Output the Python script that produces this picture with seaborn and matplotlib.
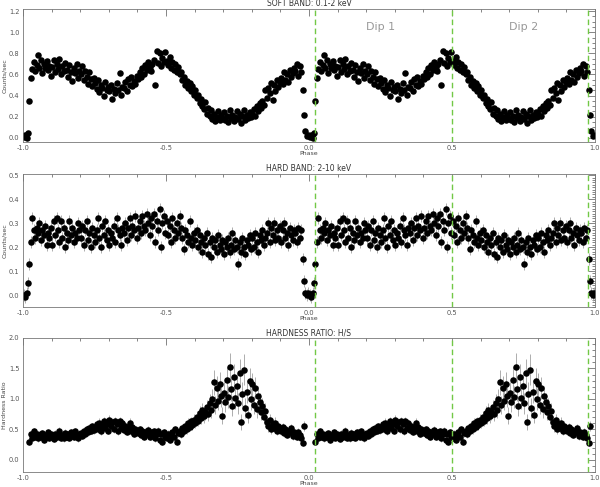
import numpy as np
import pandas as pd
import matplotlib
matplotlib.use("Agg")
import matplotlib.pyplot as plt
import seaborn as sns
from matplotlib.ticker import MultipleLocator

nan = np.nan

# one orbital cycle, phase bins of 0.005 (centres 0.0025 ... 0.9975)
PHASE = np.round(np.arange(200) * 0.005 + 0.0025, 4)

# soft band 0.1-2 keV, counts/sec
SOFT = [
    0.01, 0.03, 0.00, 0.05, 0.35, 0.57, 0.65, 0.72, 0.63, 0.69,
    0.78, 0.66, 0.74, 0.61, 0.70, 0.66, 0.73, 0.64, 0.68, 0.59,
    0.67, 0.74, 0.62, 0.70, 0.65, 0.75, 0.60, 0.68, 0.63, 0.71,
    0.64, 0.58, 0.69, 0.62, 0.54, 0.66, 0.61, 0.70, 0.57, 0.63,
    0.60, 0.68, 0.55, 0.63, 0.58, 0.51, 0.62, 0.56, 0.49, 0.57,
    0.52, 0.46, 0.55, 0.43, 0.50, 0.47, 0.40, 0.53, 0.45, 0.48,
    0.44, 0.50, 0.37, 0.46, 0.42, 0.52, 0.45, 0.61, 0.41, 0.48,
    0.47, 0.53, 0.44, 0.56, 0.50, 0.58, 0.49, 0.54, 0.51, 0.59,
    0.56, 0.62, 0.58, 0.66, 0.60, 0.69, 0.64, 0.72, 0.67, 0.63,
    0.70, 0.74, 0.50, 0.82, 0.71, 0.80, 0.68, 0.76, 0.72, 0.81,
    0.73, 0.69, 0.77, 0.66, 0.72, 0.64, 0.70, 0.62, 0.67, 0.60,
    0.62, 0.55, 0.58, 0.50, 0.54, 0.47, 0.52, 0.44, 0.49, 0.41,
    0.45, 0.38, 0.41, 0.33, 0.37, 0.30, 0.27, 0.34, 0.23, 0.28,
    0.21, 0.26, 0.18, 0.23, 0.16, 0.20, 0.25, 0.17, 0.22, 0.19,
    0.24, 0.17, 0.21, 0.15, 0.26, 0.19, 0.22, 0.16, 0.20, 0.25,
    0.18, 0.23, 0.14, 0.21, 0.26, 0.17, 0.22, 0.19, 0.24, 0.20,
    0.23, 0.27, 0.21, 0.30, 0.25, 0.33, 0.28, 0.35, 0.31, 0.45,
    0.38, 0.47, 0.42, 0.52, 0.36, 0.50, 0.44, 0.55, 0.48, 0.53,
    0.57, 0.51, 0.62, 0.55, 0.60, 0.53, 0.64, 0.58, 0.61, 0.66,
    0.63, 0.70, 0.59, 0.68, 0.62, 0.45, 0.22, 0.06, 0.02, 0.03,
]

# hard band 2-10 keV, counts/sec
HARD = [
    0.00, -0.01, 0.01, 0.05, 0.13, 0.22, 0.32, 0.27, 0.24, 0.28,
    0.26, 0.30, 0.23, 0.27, 0.25, 0.29, 0.21, 0.26, 0.24, 0.28,
    0.21, 0.31, 0.25, 0.32, 0.27, 0.22, 0.31, 0.24, 0.28, 0.20,
    0.26, 0.23, 0.31, 0.25, 0.28, 0.22, 0.26, 0.24, 0.30, 0.27,
    0.24, 0.29, 0.21, 0.27, 0.31, 0.23, 0.26, 0.20, 0.28, 0.25,
    0.22, 0.27, 0.32, 0.24, 0.20, 0.29, 0.25, 0.31, 0.23, 0.27,
    0.21, 0.26, 0.24, 0.29, 0.22, 0.32, 0.27, 0.25, 0.21, 0.28,
    0.26, 0.30, 0.23, 0.28, 0.32, 0.25, 0.29, 0.27, 0.33, 0.24,
    0.28, 0.31, 0.26, 0.33, 0.29, 0.27, 0.34, 0.30, 0.25, 0.32,
    0.29, 0.34, 0.22, 0.31, 0.27, 0.36, 0.20, 0.30, 0.33, 0.26,
    0.31, 0.25, 0.29, 0.22, 0.32, 0.27, 0.24, 0.30, 0.26, 0.33,
    0.28, 0.24, 0.19, 0.27, 0.25, 0.22, 0.31, 0.24, 0.21, 0.26,
    0.23, 0.27, 0.20, 0.25, 0.22, 0.18, 0.24, 0.21, 0.26, 0.17,
    0.22, 0.16, 0.24, 0.20, 0.23, 0.18, 0.25, 0.21, 0.19, 0.23,
    0.17, 0.22, 0.20, 0.24, 0.18, 0.21, 0.26, 0.19, 0.23, 0.20,
    0.13, 0.22, 0.18, 0.24, 0.20, 0.17, 0.23, 0.21, 0.25, 0.19,
    0.24, 0.20, 0.26, 0.22, 0.18, 0.25, 0.23, 0.27, 0.21, 0.24,
    0.26, 0.30, 0.22, 0.28, 0.25, 0.30, 0.23, 0.27, 0.24, 0.29,
    0.22, 0.27, 0.30, 0.24, 0.26, 0.21, 0.28, 0.25, 0.23, 0.27,
    0.26, 0.22, 0.28, 0.24, 0.27, 0.15, 0.06, 0.01, 0.00, 0.01,
]
HARD_ERR = 0.025

# hardness ratio H/S (no value inside the eclipse)
RATIO = [
    nan, nan, nan, nan, 0.30, 0.42, 0.36, 0.47, 0.38, 0.43,
    0.35, 0.41, 0.37, 0.44, 0.33, 0.40, 0.38, 0.46, 0.36, 0.42,
    0.39, 0.34, 0.43, 0.37, 0.41, 0.48, 0.36, 0.40, 0.35, 0.44,
    0.38, 0.42, 0.36, 0.45, 0.40, 0.37, 0.47, 0.41, 0.35, 0.43,
    0.44, 0.39, 0.48, 0.42, 0.50, 0.45, 0.52, 0.47, 0.55, 0.49,
    0.53, 0.58, 0.50, 0.61, 0.47, 0.56, 0.63, 0.52, 0.59, 0.48,
    0.66, 0.55, 0.62, 0.50, 0.64, 0.58, 0.47, 0.63, 0.53, 0.60,
    0.49, 0.56, 0.45, 0.52, 0.61, 0.47, 0.54, 0.43, 0.50, 0.46,
    0.44, 0.50, 0.41, 0.47, 0.38, 0.46, 0.42, 0.49, 0.37, 0.45,
    0.40, 0.47, 0.35, 0.43, 0.48, 0.33, 0.42, 0.30, 0.45, 0.38,
    0.36, 0.43, 0.33, 0.40, 0.46, 0.37, 0.50, 0.30, 0.44, 0.48,
    0.42, 0.52, 0.47, 0.56, 0.50, 0.60, 0.54, 0.63, 0.57, 0.66,
    0.61, 0.70, 0.64, 0.77, 0.68, 0.82, 0.72, 0.78, 0.86, 0.75,
    0.93, 0.82, 1.00, 1.27, 0.90, 1.18, 0.97, 1.24, 1.05, 0.72,
    1.10, 0.95, 1.31, 1.03, 1.52, 1.16, 0.88, 1.36, 1.02, 1.21,
    0.93, 1.42, 0.62, 1.08, 1.48, 0.85, 1.12, 0.74, 1.30, 1.00,
    1.24, 0.90, 1.18, 0.83, 1.05, 0.95, 0.78, 0.88, 0.70, 0.80,
    0.62, 0.55, 0.66, 0.50, 0.58, 0.53, 0.61, 0.48, 0.56, 0.51,
    0.47, 0.54, 0.44, 0.50, 0.41, 0.48, 0.45, 0.52, 0.39, 0.46,
    0.43, 0.38, 0.46, 0.40, 0.35, 0.28, 0.55, nan, nan, nan,
]
RATIO_ERR = [
    0.05, 0.05, 0.05, 0.05, 0.06, 0.05, 0.05, 0.06, 0.05, 0.05,
    0.05, 0.06, 0.05, 0.05, 0.05, 0.06, 0.05, 0.05, 0.05, 0.06,
    0.05, 0.05, 0.06, 0.05, 0.05, 0.06, 0.05, 0.05, 0.05, 0.06,
    0.05, 0.06, 0.05, 0.05, 0.06, 0.05, 0.06, 0.05, 0.05, 0.06,
    0.06, 0.05, 0.06, 0.06, 0.05, 0.06, 0.06, 0.05, 0.06, 0.06,
    0.06, 0.07, 0.06, 0.07, 0.06, 0.06, 0.07, 0.06, 0.07, 0.06,
    0.07, 0.06, 0.07, 0.06, 0.07, 0.06, 0.06, 0.07, 0.06, 0.07,
    0.06, 0.06, 0.05, 0.06, 0.07, 0.06, 0.06, 0.05, 0.06, 0.06,
    0.05, 0.06, 0.05, 0.06, 0.05, 0.06, 0.05, 0.06, 0.05, 0.06,
    0.05, 0.06, 0.05, 0.05, 0.06, 0.05, 0.05, 0.05, 0.06, 0.05,
    0.05, 0.06, 0.05, 0.05, 0.06, 0.05, 0.06, 0.05, 0.06, 0.06,
    0.06, 0.07, 0.06, 0.07, 0.07, 0.08, 0.07, 0.08, 0.08, 0.09,
    0.09, 0.10, 0.09, 0.11, 0.10, 0.12, 0.11, 0.12, 0.13, 0.12,
    0.15, 0.14, 0.16, 0.20, 0.15, 0.19, 0.16, 0.20, 0.18, 0.14,
    0.18, 0.16, 0.21, 0.18, 0.24, 0.19, 0.16, 0.22, 0.18, 0.20,
    0.17, 0.23, 0.13, 0.19, 0.25, 0.16, 0.19, 0.14, 0.21, 0.18,
    0.19, 0.15, 0.18, 0.14, 0.16, 0.15, 0.13, 0.14, 0.12, 0.13,
    0.10, 0.09, 0.10, 0.08, 0.09, 0.08, 0.09, 0.07, 0.08, 0.07,
    0.07, 0.07, 0.06, 0.07, 0.06, 0.06, 0.06, 0.07, 0.06, 0.06,
    0.06, 0.05, 0.06, 0.06, 0.05, 0.06, 0.08, nan, nan, nan,
]

DIP_LINES = [0.02, 0.5, 0.975]
DIP_LABELS = ["Dip 1", "Dip 2"]
DIP_LABEL_X = [0.25, 0.75]

# data is phase-folded and shown twice (-1..0 and 0..1)
one = pd.DataFrame({"phase": PHASE, "soft": SOFT, "hard": HARD,
                    "ratio": RATIO, "ratio_err": RATIO_ERR})
left = one.copy()
left["phase"] = left["phase"] - 1.0
df = pd.concat([left, one], ignore_index=True)

sns.set_style("white")
plt.rcParams["font.family"] = ["DejaVu Sans"]
plt.rcParams["axes.edgecolor"] = "#777777"
plt.rcParams["axes.linewidth"] = 0.6
plt.rcParams["xtick.color"] = "#555555"
plt.rcParams["ytick.color"] = "#555555"

fig = plt.figure(figsize=(6.0, 4.87), dpi=100)
ax1 = fig.add_axes([0.0383, 0.7084, 0.9533, 0.2731])
ax2 = fig.add_axes([0.0383, 0.3696, 0.9533, 0.2731])
ax3 = fig.add_axes([0.0383, 0.0308, 0.9533, 0.2752])

panels = [
    (ax1, "soft", None, "SOFT BAND: 0.1-2 keV", "Counts/sec", (-0.04, 1.22), 0.2, 0.05),
    (ax2, "hard", HARD_ERR, "HARD BAND: 2-10 keV", "Counts/sec", (-0.05, 0.505), 0.1, 0.01),
    (ax3, "ratio", "ratio_err", "HARDNESS RATIO: H/S", "Hardness Ratio", (-0.2, 2.0), 0.5, 0.1),
]

green = "#72c846"
for ax, col, err, title, ylab, ylim, major, minor in panels:
    if err is not None:
        yerr = df[err] if isinstance(err, str) else err
        ax.errorbar(df["phase"], df[col], yerr=yerr, fmt="none",
                    ecolor="#a0a0a0", elinewidth=0.6, zorder=1)
    sns.scatterplot(data=df, x="phase", y=col, ax=ax, color="black",
                    s=22, linewidth=0, zorder=2)
    for xv in DIP_LINES:
        ax.axvline(xv, color=green, linestyle=(0, (4, 2.5)), linewidth=1.0, zorder=3)
    ax.set_xlim(-1.0, 1.0)
    ax.set_ylim(*ylim)
    ax.set_title(title, fontsize=5.5, color="#333333", pad=2)
    ax.set_ylabel(ylab, fontsize=4.5, color="#444444", labelpad=1)
    ax.set_xlabel("Phase", fontsize=4.5, color="#444444", labelpad=0)
    ax.xaxis.set_major_locator(MultipleLocator(0.5))
    ax.xaxis.set_minor_locator(MultipleLocator(0.1))
    ax.yaxis.set_major_locator(MultipleLocator(major))
    ax.yaxis.set_minor_locator(MultipleLocator(minor))
    ax.xaxis.set_major_formatter(plt.FormatStrFormatter("%.1f"))
    ax.yaxis.set_major_formatter(plt.FormatStrFormatter("%.1f"))
    ax.tick_params(which="both", direction="in", top=True, right=True,
                   labelsize=4.8, pad=2.5)
    ax.tick_params(which="major", length=5, width=0.5)
    ax.tick_params(which="minor", length=2.5, width=0.5)
    for s in ax.spines.values():
        s.set_visible(True)

for xl, lab in zip(DIP_LABEL_X, DIP_LABELS):
    ax1.text(xl, 1.05, lab, fontsize=8, color="#999999", ha="center", va="center")

fig.savefig("out.png", dpi=100)
